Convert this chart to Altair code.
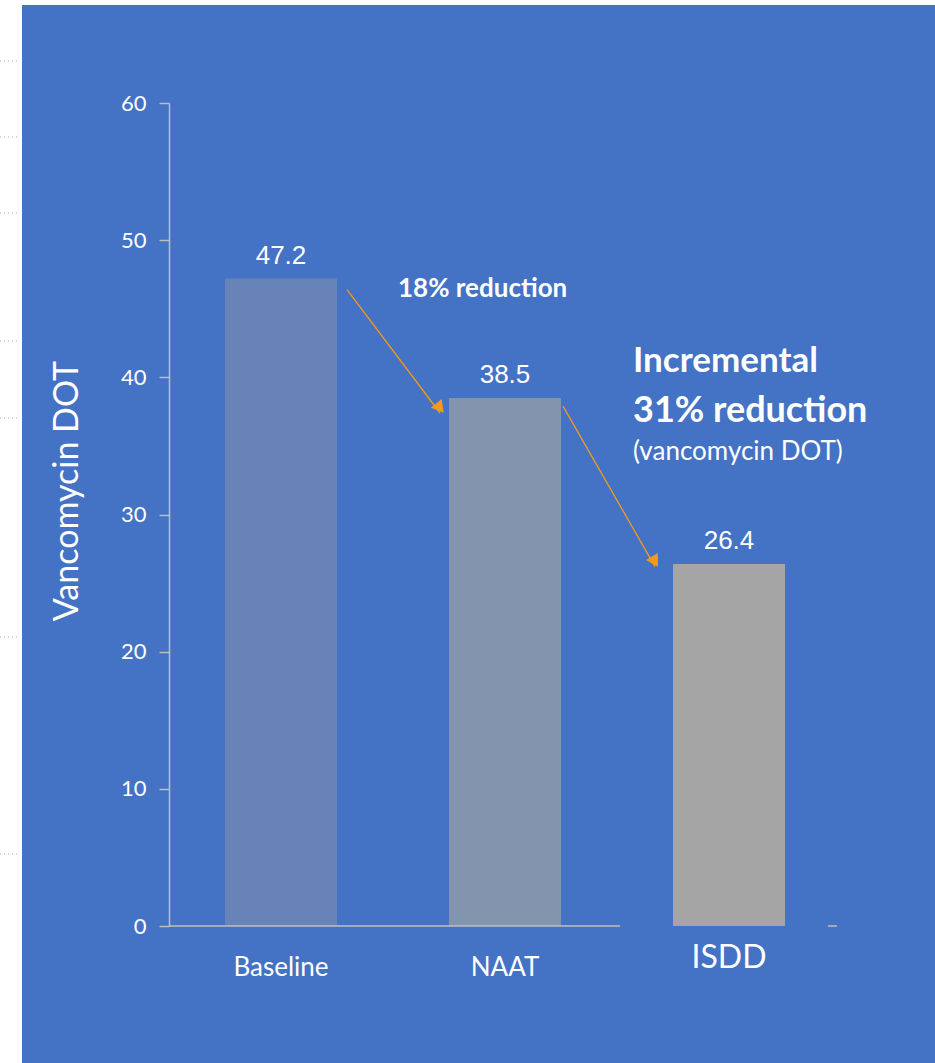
import altair as alt
import pandas as pd

categories = ["Baseline", "NAAT", "ISDD"]
values = [47.2, 38.5, 26.4]
value_labels = ["47.2", "38.5", "26.4"]
bar_colors = ["#6783B8", "#8395AE", "#A5A5A5"]

y_ticks = [0, 10, 20, 30, 40, 50, 60]

# arrows (start value, end value)
arrow_y1 = [46.4, 37.9]
arrow_y2 = [37.4, 26.2]

W, H = 672, 823
PL, PT = 169, 103

bars_df = pd.DataFrame({"cat": categories, "val": values, "lab": value_labels})
one = pd.DataFrame({"a": [0]})

bg = alt.Chart(one).mark_rect(color="#4472C4").encode(
    x=alt.value(22 - PL), x2=alt.value(935 - PL),
    y=alt.value(5 - PT), y2=alt.value(1063 - PT))

dot_rows = [61, 137, 213, 341, 418, 637, 854]
dots_df = pd.DataFrame({"yy": [r - PT for r in dot_rows]})
dots = alt.Chart(dots_df).mark_rule(color="#B0B0B0", strokeDash=[1, 3], strokeWidth=1).encode(
    x=alt.value(0 - PL), x2=alt.value(18 - PL),
    y=alt.Y("yy:Q", scale=None))

xscale = alt.Scale(domain=categories, paddingInner=0.5, paddingOuter=0.25)
yscale = alt.Scale(domain=[0, 60], nice=False)

bars = alt.Chart(bars_df).mark_bar().encode(
    x=alt.X("cat:N", sort=categories, scale=xscale,
            axis=alt.Axis(title=None, domain=False, ticks=False, tickSize=0, labelAngle=0,
                          labelColor="white", labelFont="Lato", zindex=1,
                          labelFontSize={"condition": {"test": "datum.value == 'ISDD'", "value": 32}, "value": 26},
                          labelPadding={"condition": {"test": "datum.value == 'ISDD'", "value": 31}, "value": 41},
                          labelBaseline="middle")),
    y=alt.Y("val:Q", scale=yscale,
            axis=alt.Axis(title=None, values=y_ticks, grid=False, tickSize=10, tickWidth=1.5,
                          tickColor="#BFBFBF", domainColor="#BFBFBF", domainWidth=1.5, zindex=1,
                          labelColor="white", labelFont="Lato", labelFontSize=22, labelPadding=13)),
    color=alt.Color("cat:N", sort=categories, scale=alt.Scale(domain=categories, range=bar_colors), legend=None),
)

vals = alt.Chart(bars_df).mark_text(color="white", font="Liberation Sans", fontSize=26,
                                     baseline="alphabetic", dy=-15).encode(
    x=alt.X("cat:N", sort=categories, scale=xscale),
    y=alt.Y("val:Q", scale=yscale),
    text="lab:N")

xline = alt.Chart(one).mark_rule(color="#BFBFBF", strokeWidth=1.5).encode(
    x=alt.value(0), x2=alt.value(620 - PL), y=alt.value(H))
xstub = alt.Chart(one).mark_rule(color="#BFBFBF", strokeWidth=1.5).encode(
    x=alt.value(828 - PL), x2=alt.value(837 - PL), y=alt.value(H))

arr_df = pd.DataFrame({"y1": arrow_y1, "y2": arrow_y2})
arrow1 = alt.Chart(arr_df.iloc[[0]]).mark_rule(color="#F39A1E", strokeWidth=1.3).encode(
    x=alt.value(347 - PL), x2=alt.value(440 - PL),
    y=alt.Y("y1:Q", scale=yscale), y2="y2:Q")
arrow2 = alt.Chart(arr_df.iloc[[1]]).mark_rule(color="#F39A1E", strokeWidth=1.3).encode(
    x=alt.value(563 - PL), x2=alt.value(655 - PL),
    y=alt.Y("y1:Q", scale=yscale), y2="y2:Q")
head1 = alt.Chart(arr_df.iloc[[0]]).mark_point(shape="triangle-up", filled=True, opacity=1,
                                               color="#F39A1E", size=190, angle=141).encode(
    x=alt.value(440 - PL), y=alt.Y("y2:Q", scale=yscale), yOffset=alt.value(-5))
head2 = alt.Chart(arr_df.iloc[[1]]).mark_point(shape="triangle-up", filled=True, opacity=1,
                                               color="#F39A1E", size=190, angle=149).encode(
    x=alt.value(655 - PL), y=alt.Y("y2:Q", scale=yscale), yOffset=alt.value(-5))


def label(txt, x, y, size, bold=False, angle=None, align="left"):
    kw = dict(text=txt, color="white", font="Lato", fontSize=size, align=align,
              baseline="middle", fontWeight="bold" if bold else "normal")
    if angle is not None:
        kw["angle"] = angle
    return alt.Chart(one).mark_text(**kw).encode(x=alt.value(x - PL), y=alt.value(y - PT))


t1 = label("18% reduction", 398, 289, 26, bold=True)
t2 = label("Incremental", 633, 361, 35, bold=True)
t3 = label("31% reduction", 633, 411, 36, bold=True)
t4 = label("(vancomycin DOT)", 633, 452, 26)
ytitle = label("Vancomycin DOT", 68, 491, 34, angle=270, align="center")

chart = alt.layer(bg, dots, bars, vals, xline, xstub, arrow1, arrow2, head1, head2,
                  t1, t2, t3, t4, ytitle).properties(
    width=W, height=H, background="white",
    padding={"left": PL, "top": PT, "right": 935 - PL - W, "bottom": 1063 - PT - H},
    autosize=alt.AutoSizeParams(type="none"),
).configure_view(stroke=None)

chart.save("out.html", embed_options={"renderer": "svg", "actions": False})
